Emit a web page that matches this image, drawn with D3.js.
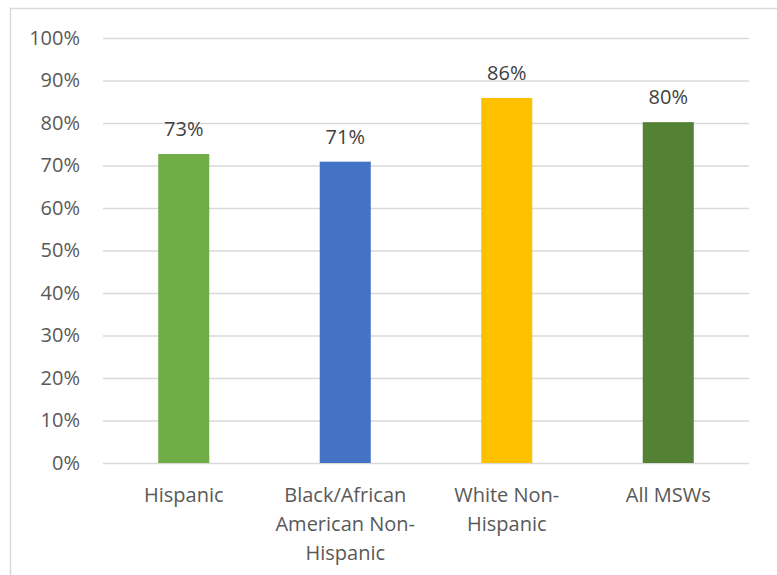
<!DOCTYPE html>
<html><head><meta charset="utf-8">
<script src="https://cdn.jsdelivr.net/npm/d3@7"></script>
<style>body{margin:0;background:#fff}svg{display:block}</style>
</head><body>
<svg id="c" width="777" height="575"></svg>
<script>
const categories = [["Hispanic"], ["Black/African", "American Non-", "Hispanic"], ["White Non-", "Hispanic"], ["All MSWs"]];
const values = [0.727, 0.709, 0.859, 0.802];
const labels = ["73%", "71%", "86%", "80%"];
const colors = ["#70AD47", "#4472C4", "#FFC000", "#548235"];
const ticks = [0, 0.1, 0.2, 0.3, 0.4, 0.5, 0.6, 0.7, 0.8, 0.9, 1.0];

const svg = d3.select("#c");
const font = "'Open Sans', sans-serif";
svg.append("rect").attr("x", 10.5).attr("y", 8.5).attr("width", 800).attr("height", 600)
  .attr("fill", "#fff").attr("stroke", "#d9d9d9").attr("stroke-width", 1.5);

const x = d3.scaleBand().domain(d3.range(values.length)).range([103, 749]).paddingInner(0.684).paddingOuter(0.342);
const y = d3.scaleLinear().domain([0, 1]).range([463, 38]);

const ax = svg.append("g").attr("transform", "translate(103,0)")
  .call(d3.axisLeft(y).tickValues(ticks).tickFormat(d3.format(".0%")).tickSize(-646).tickPadding(23));
ax.select(".domain").remove();
ax.selectAll(".tick line").attr("stroke", "#d9d9d9").attr("stroke-width", 1.5);
ax.selectAll(".tick text").attr("fill", "#595959").style("font-family", font).style("font-size", "20px");

svg.selectAll("rect.bar").data(values).enter().append("rect").attr("class", "bar")
  .attr("x", (d, i) => x(i)).attr("width", x.bandwidth())
  .attr("y", d => y(d)).attr("height", d => y(0) - y(d))
  .attr("fill", (d, i) => colors[i]);

svg.selectAll("text.val").data(values).enter().append("text").attr("class", "val")
  .attr("x", (d, i) => x(i) + x.bandwidth() / 2).attr("y", d => y(d) - 18)
  .attr("text-anchor", "middle").attr("fill", "#404040")
  .style("font-family", font).style("font-size", "20px")
  .text((d, i) => labels[i]);

const cat = svg.selectAll("text.cat").data(categories).enter().append("text").attr("class", "cat")
  .attr("text-anchor", "middle").attr("fill", "#595959")
  .style("font-family", font).style("font-size", "20px");
cat.each(function (lines, i) {
  const t = d3.select(this);
  lines.forEach((l, j) => {
    t.append("tspan").attr("x", x(i) + x.bandwidth() / 2).attr("y", 502 + j * 29).text(l);
  });
});
</script>
</body></html>
